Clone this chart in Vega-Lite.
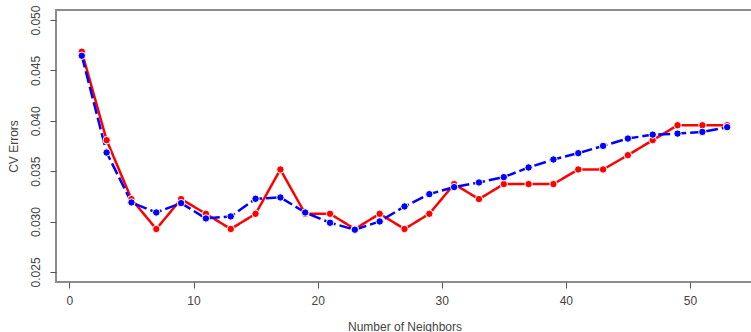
{
  "$schema": "https://vega.github.io/schema/vega-lite/v6.json",
  "autosize": "none",
  "width": 697,
  "height": 272,
  "padding": {"left": 56, "top": 10, "right": 0, "bottom": 50},
  "background": "white",
  "config": {
    "view": {"stroke": "#8c8c8c", "strokeWidth": 2},
    "font": "Liberation Sans",
    "axis": {
      "domain": false,
      "grid": false,
      "tickColor": "#555555",
      "tickSize": 6,
      "tickWidth": 1,
      "labelColor": "#444444",
      "labelFont": "Liberation Sans",
      "labelFontSize": 12,
      "titleColor": "#444444",
      "titleFont": "Liberation Sans",
      "titleFontSize": 12,
      "titleFontWeight": "normal"
    }
  },
  "data": {
    "values": [
      {"k": 1, "err": 0.04686, "series": "a"},
      {"k": 3, "err": 0.03808, "series": "a"},
      {"k": 5, "err": 0.03223, "series": "a"},
      {"k": 7, "err": 0.02926, "series": "a"},
      {"k": 9, "err": 0.03223, "series": "a"},
      {"k": 11, "err": 0.03077, "series": "a"},
      {"k": 13, "err": 0.02926, "series": "a"},
      {"k": 15, "err": 0.03077, "series": "a"},
      {"k": 17, "err": 0.03517, "series": "a"},
      {"k": 19, "err": 0.03077, "series": "a"},
      {"k": 21, "err": 0.03077, "series": "a"},
      {"k": 23, "err": 0.02926, "series": "a"},
      {"k": 25, "err": 0.03077, "series": "a"},
      {"k": 27, "err": 0.02926, "series": "a"},
      {"k": 29, "err": 0.03077, "series": "a"},
      {"k": 31, "err": 0.03372, "series": "a"},
      {"k": 33, "err": 0.03223, "series": "a"},
      {"k": 35, "err": 0.03372, "series": "a"},
      {"k": 37, "err": 0.03372, "series": "a"},
      {"k": 39, "err": 0.03372, "series": "a"},
      {"k": 41, "err": 0.03517, "series": "a"},
      {"k": 43, "err": 0.03517, "series": "a"},
      {"k": 45, "err": 0.03659, "series": "a"},
      {"k": 47, "err": 0.03808, "series": "a"},
      {"k": 49, "err": 0.03956, "series": "a"},
      {"k": 51, "err": 0.03956, "series": "a"},
      {"k": 53, "err": 0.03956, "series": "a"},
      {"k": 1, "err": 0.04646, "series": "b"},
      {"k": 3, "err": 0.03685, "series": "b"},
      {"k": 5, "err": 0.0319, "series": "b"},
      {"k": 7, "err": 0.0309, "series": "b"},
      {"k": 9, "err": 0.03183, "series": "b"},
      {"k": 11, "err": 0.03031, "series": "b"},
      {"k": 13, "err": 0.03051, "series": "b"},
      {"k": 15, "err": 0.03226, "series": "b"},
      {"k": 17, "err": 0.03239, "series": "b"},
      {"k": 19, "err": 0.0309, "series": "b"},
      {"k": 21, "err": 0.02988, "series": "b"},
      {"k": 23, "err": 0.02919, "series": "b"},
      {"k": 25, "err": 0.03001, "series": "b"},
      {"k": 27, "err": 0.0315, "series": "b"},
      {"k": 29, "err": 0.03272, "series": "b"},
      {"k": 31, "err": 0.03342, "series": "b"},
      {"k": 33, "err": 0.03388, "series": "b"},
      {"k": 35, "err": 0.03441, "series": "b"},
      {"k": 37, "err": 0.03537, "series": "b"},
      {"k": 39, "err": 0.03616, "series": "b"},
      {"k": 41, "err": 0.03679, "series": "b"},
      {"k": 43, "err": 0.03751, "series": "b"},
      {"k": 45, "err": 0.03824, "series": "b"},
      {"k": 47, "err": 0.03863, "series": "b"},
      {"k": 49, "err": 0.03873, "series": "b"},
      {"k": 51, "err": 0.0389, "series": "b"},
      {"k": 53, "err": 0.03937, "series": "b"}
    ]
  },
  "encoding": {
    "x": {
      "field": "k",
      "type": "quantitative",
      "scale": {"domain": [-1.08, 55.08], "nice": false, "zero": false},
      "axis": {"values": [0, 10, 20, 30, 40, 50], "title": "Number of Neighbors", "labelPadding": 7, "titlePadding": 15}
    },
    "y": {
      "field": "err",
      "type": "quantitative",
      "scale": {"domain": [0.024, 0.051], "nice": false, "zero": false},
      "axis": {"values": [0.025, 0.03, 0.035, 0.04, 0.045, 0.05], "format": ".3f", "labelAngle": -90, "labelAlign": "center", "labelBaseline": "bottom", "labelPadding": 8, "title": "CV Errors", "titlePadding": 9}
    },
    "color": {
      "field": "series",
      "type": "nominal",
      "scale": {"domain": ["a", "b"], "range": ["#ff0000", "#0000ff"]},
      "legend": null
    }
  },
  "layer": [
    {
      "mark": {"type": "line", "strokeWidth": 2.5},
      "encoding": {
        "strokeDash": {
          "field": "series",
          "type": "nominal",
          "scale": {"domain": ["a", "b"], "range": [[1, 0], [12, 4]]},
          "legend": null
        }
      }
    },
    {
      "mark": {"type": "point", "filled": true, "size": 55, "opacity": 1, "stroke": "white", "strokeWidth": 1}
    }
  ]
}
